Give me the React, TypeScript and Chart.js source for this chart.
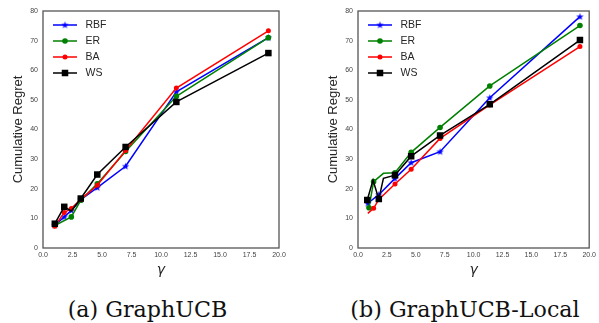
import React, { useEffect, useRef } from 'react';
import { Chart, registerables } from 'chart.js';

Chart.register(...registerables);

// ---------- Data: panel (a) GraphUCB ----------
const A_RBF_X = [1.0, 1.8, 2.4, 3.2, 4.6, 7.0, 11.3, 19.1];
const A_RBF_Y = [7.7, 10.5, 12.7, 16.3, 20.4, 27.6, 52.7, 71.0];
const A_ER_X = [1.0, 2.4, 3.2, 4.6, 7.0, 11.3, 19.1];
const A_ER_Y = [7.6, 10.5, 16.1, 21.7, 32.6, 51.2, 71.0];
const A_BA_X = [1.0, 1.8, 2.4, 3.2, 4.6, 7.0, 11.3, 19.1];
const A_BA_Y = [7.3, 12.0, 13.3, 16.4, 21.2, 32.9, 54.0, 73.3];
const A_WS_X = [1.0, 1.8, 2.4, 3.2, 4.6, 7.0, 11.3, 19.1];
const A_WS_Y = [8.2, 13.9, 12.5, 16.7, 24.8, 34.1, 49.3, 65.8];

// ---------- Data: panel (b) GraphUCB-Local ----------
const B_RBF_X = [0.85, 1.8, 3.2, 4.6, 7.1, 11.4, 19.2];
const B_RBF_Y = [15.1, 18.0, 23.5, 28.8, 32.5, 50.7, 78.1];
const B_ER_X = [0.95, 1.35, 2.2, 3.2, 4.6, 7.1, 11.4, 19.2];
const B_ER_Y = [13.6, 22.4, 25.2, 25.4, 32.3, 40.7, 54.7, 75.1];
const B_BA_X = [0.85, 1.35, 1.8, 3.2, 4.6, 7.1, 11.4, 19.2];
const B_BA_Y = [11.7, 13.4, 16.4, 21.6, 26.6, 37.0, 48.3, 68.0];
const B_WS_X = [0.8, 1.3, 1.8, 2.2, 3.2, 4.6, 7.1, 11.4, 19.2];
const B_WS_Y = [16.2, 22.9, 16.5, 23.5, 24.6, 31.0, 38.0, 48.5, 70.2];

// ---------- Labels / ticks ----------
const SERIES_NAMES = ['RBF', 'ER', 'BA', 'WS'];
const X_MIN = 0;
const X_MAX = 20;
const X_STEP = 2.5;
const Y_MIN = 0;
const Y_MAX = 80;
const Y_STEP = 10;
const Y_TITLE = 'Cumulative Regret';
const X_TITLE = 'γ';
const CAPTION_A = '(a) GraphUCB';
const CAPTION_B = '(b) GraphUCB-Local';

// ---------- Styles ----------
const STYLES: Record<string, any> = {
  RBF: { color: '#0000ff', marker: 'star', r: 3, order: 4 },
  ER: { color: '#008000', marker: 'circle', r: 2.8, order: 3 },
  BA: { color: '#ff0000', marker: 'circle', r: 2.5, order: 2 },
  WS: { color: '#000000', marker: 'square', r: 4.6, order: 1 },
};

function makeStar(color: string) {
  const c = document.createElement('canvas');
  c.width = 9;
  c.height = 9;
  const g = c.getContext('2d')!;
  g.fillStyle = color;
  g.beginPath();
  const cx = 4.5, cy = 4.7, R = 3.8, r = 1.6;
  for (let i = 0; i < 10; i++) {
    const a = -Math.PI / 2 + (i * Math.PI) / 5;
    const rr = i % 2 === 0 ? R : r;
    const px = cx + rr * Math.cos(a);
    const py = cy + rr * Math.sin(a);
    if (i === 0) g.moveTo(px, py);
    else g.lineTo(px, py);
  }
  g.closePath();
  g.fill();
  return c;
}

function drawMarker(ctx: CanvasRenderingContext2D, st: any, x: number, y: number, star: HTMLCanvasElement) {
  ctx.fillStyle = st.color;
  if (st.marker === 'circle') {
    ctx.beginPath();
    ctx.arc(x, y, st.r, 0, Math.PI * 2);
    ctx.fill();
  } else if (st.marker === 'square') {
    const s = (st.r * Math.SQRT2) / 2;
    ctx.fillRect(x - s, y - s, 2 * s, 2 * s);
  } else {
    ctx.drawImage(star, x - star.width / 2, y - star.height / 2);
  }
}

type SeriesIn = { name: string; xs: number[]; ys: number[]; noMark: number[] };

function Panel(props: { left: number; width: number; height: number; padRight: number; series: SeriesIn[] }) {
  const ref = useRef<HTMLCanvasElement | null>(null);
  useEffect(() => {
    if (!ref.current) return;
    const star = makeStar(STYLES.RBF.color);
    const datasets = props.series.map((s) => {
      const st = STYLES[s.name];
      return {
        label: s.name,
        data: s.xs.map((x, i) => ({ x, y: s.ys[i] })),
        borderColor: st.color,
        backgroundColor: st.color,
        borderWidth: 1.5,
        tension: 0,
        order: st.order,
        pointStyle: st.marker === 'star' ? star : st.marker === 'square' ? 'rect' : 'circle',
        pointRadius: (c: any) => (s.noMark.includes(c.dataIndex) ? 0 : st.r),
        pointBorderWidth: 0,
        pointBackgroundColor: st.color,
        pointBorderColor: st.color,
      };
    });

    const frameAndLegend = {
      id: 'frameAndLegend',
      afterDraw(chart: any) {
        const { ctx, chartArea } = chart;
        ctx.save();
        // legend
        props.series.forEach((s, i) => {
          const st = STYLES[s.name];
          const y = chartArea.top + 14 + 16 * i;
          const x0 = chartArea.left + 10;
          const x1 = chartArea.left + 34;
          ctx.strokeStyle = st.color;
          ctx.lineWidth = 1.5;
          ctx.beginPath();
          ctx.moveTo(x0, y);
          ctx.lineTo(x1, y);
          ctx.stroke();
          drawMarker(ctx, st, (x0 + x1) / 2, y, star);
          ctx.fillStyle = '#262626';
          ctx.font = '10.5px "Liberation Sans", Arial, sans-serif';
          ctx.textBaseline = 'middle';
          ctx.textAlign = 'left';
          ctx.fillText(s.name, chartArea.left + 42.5, y + 0.5);
        });
        // frame
        ctx.strokeStyle = '#555555';
        ctx.lineWidth = 1.3;
        ctx.strokeRect(chartArea.left, chartArea.top, chartArea.right - chartArea.left, chartArea.bottom - chartArea.top);
        ctx.restore();
      },
    };

    const tickFont = { family: '"Liberation Sans", Arial, sans-serif', size: 7 };
    const chart = new Chart(ref.current, {
      type: 'line',
      data: { datasets: datasets as any },
      options: {
        animation: false,
        responsive: false,
        maintainAspectRatio: false,
        events: [],
        layout: { padding: { top: 11, right: props.padRight, left: 0, bottom: 0 } },
        plugins: { legend: { display: false }, tooltip: { enabled: false } },
        scales: {
          x: {
            type: 'linear',
            min: X_MIN,
            max: X_MAX,
            grid: { display: false, drawTicks: false },
            border: { display: false },
            ticks: {
              stepSize: X_STEP,
              autoSkip: false,
              maxRotation: 0,
              padding: 3,
              color: '#444444',
              font: tickFont,
              callback: (v: any) => Number(v).toFixed(1),
            },
            title: {
              display: true,
              text: X_TITLE,
              color: '#262626',
              font: { family: '"DejaVu Sans", sans-serif', size: 14, style: 'italic' },
              padding: { top: 0, bottom: 11.6 },
            },
            afterFit: (s: any) => {
              s.height = props.height - 248;
            },
          },
          y: {
            type: 'linear',
            min: Y_MIN,
            max: Y_MAX,
            grid: { display: false, drawTicks: false },
            border: { display: false },
            ticks: {
              stepSize: Y_STEP,
              padding: 5,
              color: '#444444',
              font: tickFont,
            },
            title: {
              display: true,
              text: Y_TITLE,
              color: '#262626',
              font: { family: '"Liberation Sans", Arial, sans-serif', size: 13 },
              padding: { top: 10.5, bottom: 0 },
            },
            afterFit: (s: any) => {
              s.width = 43;
            },
          },
        },
      },
      plugins: [frameAndLegend],
    });
    return () => chart.destroy();
  }, []);
  return (
    <canvas
      ref={ref}
      width={props.width}
      height={props.height}
      style={{ position: 'absolute', left: props.left, top: 0, width: props.width, height: props.height }}
    />
  );
}

const captionStyle: React.CSSProperties = {
  position: 'absolute',
  top: 294.3,
  width: 300,
  textAlign: 'center',
  fontFamily: '"DejaVu Serif", serif',
  fontSize: 22.2,
  lineHeight: '30px',
  color: '#111',
  whiteSpace: 'nowrap',
};

export default function App() {
  const seriesA: SeriesIn[] = [
    { name: SERIES_NAMES[0], xs: A_RBF_X, ys: A_RBF_Y, noMark: [] },
    { name: SERIES_NAMES[1], xs: A_ER_X, ys: A_ER_Y, noMark: [] },
    { name: SERIES_NAMES[2], xs: A_BA_X, ys: A_BA_Y, noMark: [] },
    { name: SERIES_NAMES[3], xs: A_WS_X, ys: A_WS_Y, noMark: [2] },
  ];
  const seriesB: SeriesIn[] = [
    { name: SERIES_NAMES[0], xs: B_RBF_X, ys: B_RBF_Y, noMark: [] },
    { name: SERIES_NAMES[1], xs: B_ER_X, ys: B_ER_Y, noMark: [2] },
    { name: SERIES_NAMES[2], xs: B_BA_X, ys: B_BA_Y, noMark: [0] },
    { name: SERIES_NAMES[3], xs: B_WS_X, ys: B_WS_Y, noMark: [1, 3] },
  ];
  return (
    <div style={{ position: 'absolute', left: 0, top: 0, width: 599, height: 323, overflow: 'hidden', background: '#fff' }}>
      <Panel left={0} width={300} height={290} padRight={21} series={seriesA} />
      <Panel left={315} width={284} height={290} padRight={7} series={seriesB} />
      <div style={{ ...captionStyle, left: 147.5 - 150 }}>{CAPTION_A}</div>
      <div style={{ ...captionStyle, left: 465 - 150 }}>{CAPTION_B}</div>
    </div>
  );
}
